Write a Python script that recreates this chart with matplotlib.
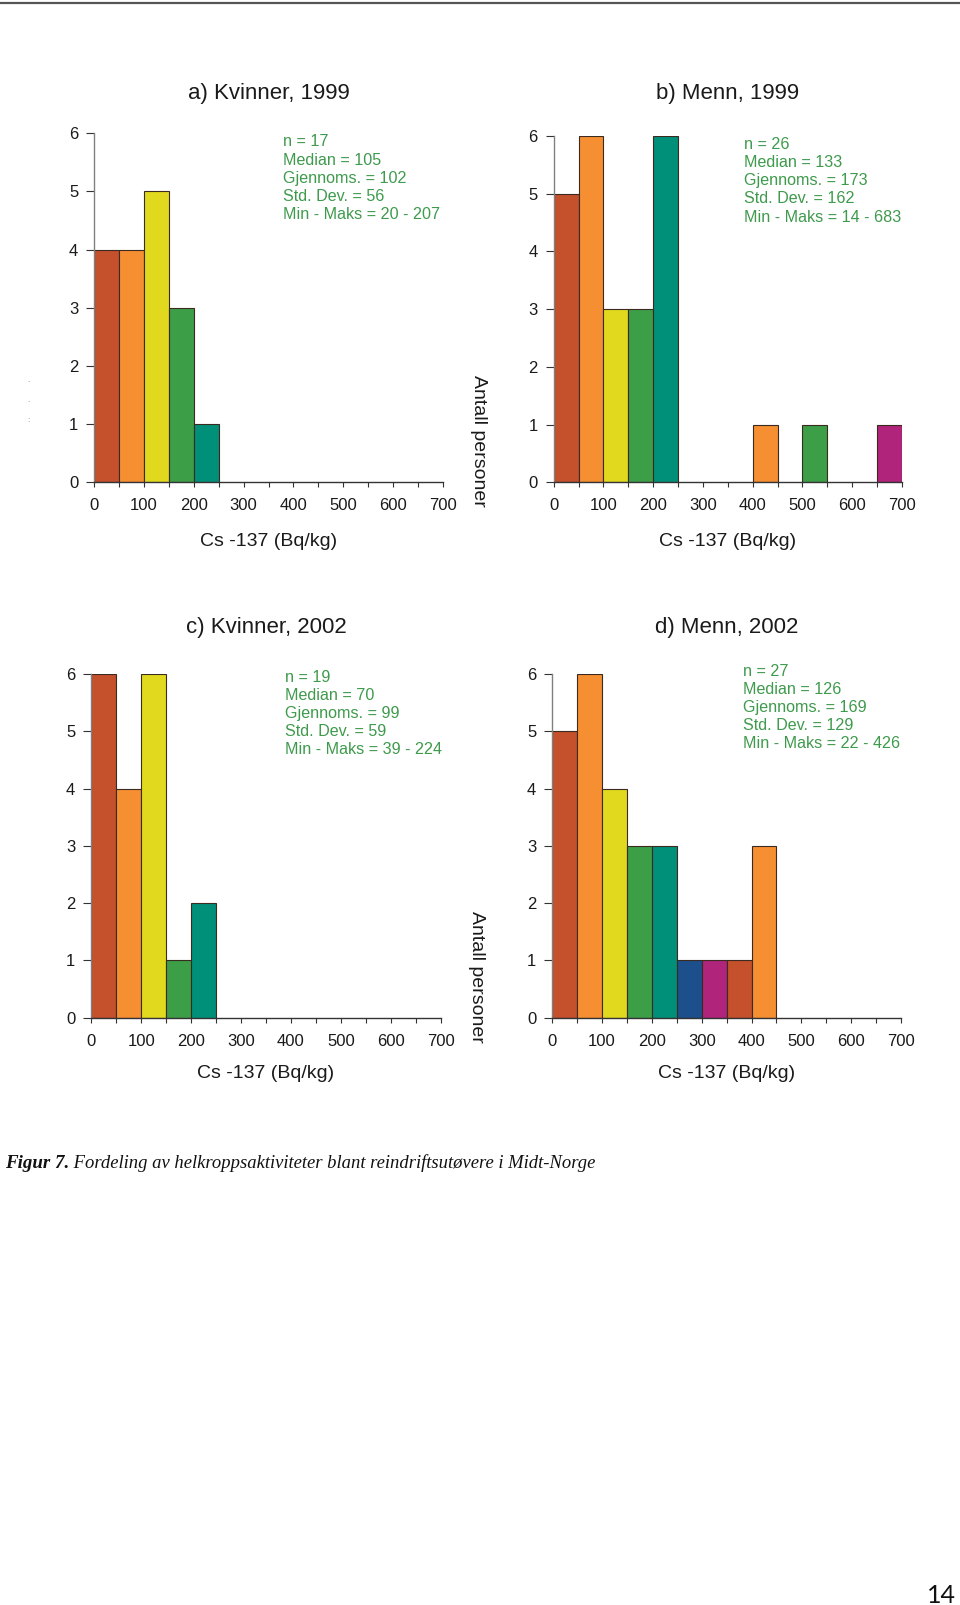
import matplotlib
matplotlib.use("Agg")
import matplotlib.pyplot as plt
from matplotlib.ticker import MultipleLocator

plt.rcParams['font.family'] = ['Liberation Sans', 'DejaVu Sans']

# ---- data ----
bin_starts = [0, 50, 100, 150, 200, 250, 300, 350, 400, 450, 500, 550, 600, 650]
bin_width = 50
counts_a = [4, 4, 5, 3, 1, 0, 0, 0, 0, 0, 0, 0, 0, 0]
counts_b = [5, 6, 3, 3, 6, 0, 0, 0, 1, 0, 1, 0, 0, 1]
counts_c = [6, 4, 6, 1, 2, 0, 0, 0, 0, 0, 0, 0, 0, 0]
counts_d = [5, 6, 4, 3, 3, 1, 1, 1, 3, 0, 0, 0, 0, 0]

titles = ["a) Kvinner, 1999", "b) Menn, 1999", "c) Kvinner, 2002", "d) Menn, 2002"]
stats_a = ["n = 17", "Median = 105", "Gjennoms. = 102", "Std. Dev. = 56", "Min - Maks = 20 - 207"]
stats_b = ["n = 26", "Median = 133", "Gjennoms. = 173", "Std. Dev. = 162", "Min - Maks = 14 - 683"]
stats_c = ["n = 19", "Median = 70", "Gjennoms. = 99", "Std. Dev. = 59", "Min - Maks = 39 - 224"]
stats_d = ["n = 27", "Median = 126", "Gjennoms. = 169", "Std. Dev. = 129", "Min - Maks = 22 - 426"]
x_ticks = [0, 100, 200, 300, 400, 500, 600, 700]
y_ticks = [0, 1, 2, 3, 4, 5, 6]
xlabel = "Cs -137 (Bq/kg)"
ylabel = "Antall personer"
caption_bold = "Figur 7."
caption_rest = " Fordeling av helkroppsaktiviteter blant reindriftsutøvere i Midt-Norge"
page_no = "14"

palette = ["#c4502c", "#f58f32", "#e0d91e", "#3d9e48", "#008f78", "#1c4f8c", "#b0247c"]
stat_color = "#3e9a4c"

W, H = 960, 1605
fig = plt.figure(figsize=(W / 100, H / 100), dpi=100)

def fx(px):
    return px / W

def fy(py):
    return 1 - py / H

# panel pixel boxes: (x_left, x_right, y_top(6), y_bottom(0))
boxes = [
    (94.3, 442.7, 133.3, 482.3),
    (553.7, 902.0, 136.0, 482.3),
    (91.3, 440.7, 674.0, 1017.7),
    (552.3, 901.0, 674.0, 1017.7),
]
all_counts = [counts_a, counts_b, counts_c, counts_d]
all_stats = [stats_a, stats_b, stats_c, stats_d]
title_y = [93, 93, 628, 628]
xlabel_y = [541, 541, 1074, 1074]
stat_pos = [(282.7, 140.7), (744.3, 143.3), (285.0, 676.0), (742.7, 670.0)]

for i in range(4):
    xl, xr, yt, yb = boxes[i]
    ax = fig.add_axes([fx(xl), fy(yb), fx(xr - xl), (yb - yt) / H])
    cnts = all_counts[i]
    xs = [s for s, c in zip(bin_starts, cnts) if c > 0]
    hs = [c for c in cnts if c > 0]
    cols = [palette[k % 7] for k, c in enumerate(cnts) if c > 0]
    ax.bar(xs, hs, width=bin_width, align='edge', color=cols,
           edgecolor="#3b2a20", linewidth=0.8, zorder=2)
    ax.set_xlim(0, 700)
    ax.set_ylim(0, 6)
    for s in ['top', 'right']:
        ax.spines[s].set_visible(False)
    ax.spines['left'].set_color("#808080")
    ax.spines['bottom'].set_color("#333333")
    ax.spines['left'].set_linewidth(1.0)
    ax.spines['bottom'].set_linewidth(1.0)
    ax.set_xticks(x_ticks)
    ax.set_yticks(y_ticks)
    ax.xaxis.set_minor_locator(MultipleLocator(50))
    ax.tick_params(axis='x', which='both', direction='out', length=3.5, width=0.8,
                   color="#333333", labelsize=12, pad=8, labelcolor="#1a1a1a")
    ax.tick_params(axis='y', which='both', direction='out', length=5.5, width=0.8,
                   color="#333333", labelsize=12, pad=6, labelcolor="#1a1a1a")
    ax.set_facecolor('none')
    # title
    fig.text(fx((xl + xr) / 2), fy(title_y[i]), titles[i], ha='center', va='center',
             fontsize=16, color="#1a1a1a")
    # x label
    fig.text(fx((xl + xr) / 2), fy(xlabel_y[i]), xlabel, ha='center', va='center',
             fontsize=14, color="#1a1a1a")
    # stats
    sx, sy = stat_pos[i]
    for j, line in enumerate(all_stats[i]):
        fig.text(fx(sx), fy(sy + j * 18.1 + 5.8), line, ha='left', va='baseline',
                 fontsize=11.6, color=stat_color)

# y labels between the panels
fig.text(fx(479), fy(441), ylabel, rotation=270, ha='center', va='center',
         fontsize=14, color="#1a1a1a")
fig.text(fx(477), fy(977), ylabel, rotation=270, ha='center', va='center',
         fontsize=14, color="#1a1a1a")

# stray marks at left
for yy, t in [(380.7, "."), (400.7, "."), (420, ":")]:
    fig.text(fx(28), fy(yy), t, ha='center', va='center', fontsize=6, color="#777777")

# top rule
fig.add_artist(plt.Line2D([0, 1], [fy(3), fy(3)], color="#555555", linewidth=1.6,
                          transform=fig.transFigure))

# caption
t1 = fig.text(fx(5), fy(1168), caption_bold, ha='left', va='baseline',
              fontsize=13.6, fontweight='bold', style='italic',
              family=['Liberation Serif', 'DejaVu Serif'], color="#111111")
fig.canvas.draw()
bb = t1.get_window_extent()
fig.text(bb.x1 / W, fy(1168), caption_rest, ha='left', va='baseline',
         fontsize=13.45, style='italic', family=['Liberation Serif', 'DejaVu Serif'],
         color="#111111")

# page number
fig.text(fx(941), fy(1603), page_no, ha='center', va='baseline', fontsize=18,
         family=['Lato', 'DejaVu Sans'], color="#111111")

fig.savefig("out.png", dpi=100, facecolor='white')
